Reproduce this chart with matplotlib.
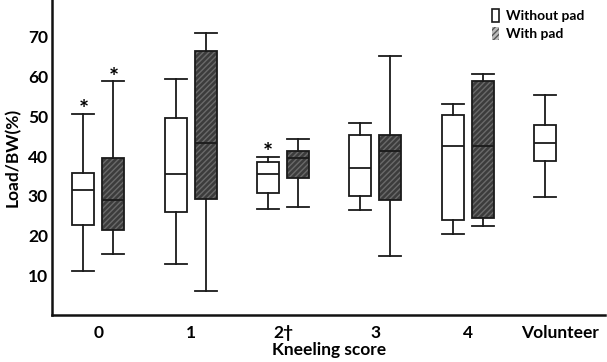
import numpy as np
import matplotlib
matplotlib.use('Agg')
import matplotlib.pyplot as plt
from matplotlib.patches import Patch

plt.rcParams['font.family'] = ['Lato', 'DejaVu Sans']

# kneeling score groups
groups = ['0', '1', '2\u2020', '3', '4', 'Volunteer']

# box stats: (whislo, q1, med, q3, whishi)
without_pad = [
    (11.1, 22.6, 31.4, 35.7, 50.6),
    (12.9, 26.0, 35.4, 49.6, 59.5),
    (26.6, 30.7, 35.6, 38.5, 39.8),
    (26.5, 30.0, 36.9, 45.4, 48.3),
    (20.5, 23.8, 42.5, 50.3, 53.2),
    (29.8, 38.8, 43.4, 47.7, 55.5),   # volunteer
]
with_pad = [
    (15.4, 21.3, 29.0, 39.6, 58.8),
    (6.0, 29.1, 43.3, 66.5, 71.1),
    (27.2, 34.4, 39.4, 41.2, 44.2),
    (14.8, 28.9, 41.2, 45.4, 65.1),
    (22.5, 24.5, 42.5, 59.0, 60.7),
]
# significance marks (group index, which box, y)
stars = [(0, 'without', 53.4), (0, 'with', 61.4), (2, 'without', 42.5)]


def to_stats(rows):
    return [dict(whislo=r[0], q1=r[1], med=r[2], q3=r[3], whishi=r[4], fliers=[]) for r in rows]


fig = plt.figure(figsize=(6.07, 3.62), dpi=100)
ax = fig.add_axes([0.086, 0.13, 0.911, 0.87])

off = 0.162
w = 0.24
lw = 1.3
pos_wo = np.arange(len(without_pad)) - off
pos_wo[-1] = 5 - off
pos_w = np.arange(len(with_pad)) + off

line = dict(color='#1a1a1a', linewidth=lw)
ax.bxp(to_stats(without_pad), positions=pos_wo, widths=w, capwidths=w,
       patch_artist=True, showfliers=False,
       boxprops=dict(facecolor='white', edgecolor='#1a1a1a', linewidth=lw),
       medianprops=line, whiskerprops=line, capprops=line)

# hatched fill first, then outline on top
ax.bxp(to_stats(with_pad), positions=pos_w, widths=w, capwidths=w,
       patch_artist=True, showfliers=False, showcaps=False,
       boxprops=dict(facecolor='#3c3c3c', edgecolor='#6a6a6a', linewidth=0, hatch='//////'),
       medianprops=dict(linewidth=0), whiskerprops=dict(linewidth=0))
ax.bxp(to_stats(with_pad), positions=pos_w, widths=w, capwidths=w,
       patch_artist=True, showfliers=False,
       boxprops=dict(facecolor='none', edgecolor='#1a1a1a', linewidth=lw),
       medianprops=line, whiskerprops=line, capprops=line)

for g, which, y in stars:
    x = g - off if which == 'without' else g + off
    ax.text(x, y - 1.8, '*', ha='center', va='center', fontsize=17, fontweight='bold')

ax.set_xlim(-0.5, 5.49)
ax.set_ylim(0, 79.3)
ax.set_xticks(np.arange(len(groups)))
ax.set_xticklabels(groups)
ax.set_yticks([10, 20, 30, 40, 50, 60, 70])
ax.tick_params(length=0, labelsize=12.5)
ax.tick_params(axis='x', pad=7)
ax.tick_params(axis='y', pad=3)
for t in ax.get_xticklabels() + ax.get_yticklabels():
    t.set_fontweight('bold')

for s in ['top', 'right']:
    ax.spines[s].set_visible(False)
for s in ['left', 'bottom']:
    ax.spines[s].set_linewidth(1.8)
    ax.spines[s].set_color('#111111')

ax.set_xlabel('Kneeling score', fontsize=12.5, fontweight='bold', labelpad=1)
ax.set_ylabel('Load/BW(%)', fontsize=12.5, fontweight='bold', labelpad=5)

handles = [Patch(facecolor='white', edgecolor='#1a1a1a', linewidth=1.2),
           Patch(facecolor='#bbbbbb', edgecolor='#555555', linewidth=0, hatch='//////')]
ax.legend(handles, ['Without pad', 'With pad'], loc='upper right', bbox_to_anchor=(0.985, 1.01),
          frameon=False, handlelength=0.5, handleheight=1.0, handletextpad=0.5,
          labelspacing=0.35, prop=dict(weight='bold', size=10))

fig.savefig('out.png', dpi=100)
